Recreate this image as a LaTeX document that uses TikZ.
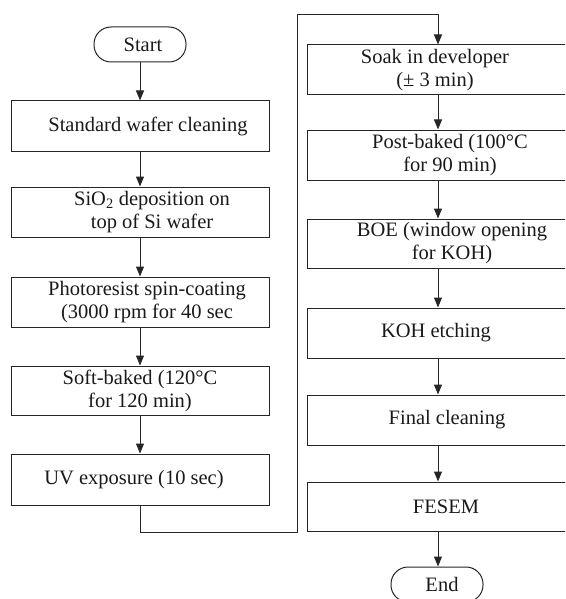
\documentclass[tikz,border=0pt]{standalone}
\usepackage{fontspec}
\setmainfont{Liberation Serif}
\usetikzlibrary{arrows.meta}
\begin{document}
\begin{tikzpicture}[x=1pt,y=-1pt,
  box/.style={draw=black!85, line width=1pt, minimum width=258pt, minimum height=50pt, inner sep=0pt},
  rbox/.style={box, minimum width=262pt},
  term/.style={draw=black!85, line width=1pt, rounded corners=17pt, minimum width=92pt, minimum height=35pt, inner sep=0pt},
  txt/.style={font=\fontsize{20.5}{23}\selectfont, align=center, inner sep=0pt, text=black!90},
  arr/.style={line width=1pt, draw=black!85, -{Triangle[width=8pt,length=10pt]}},
  ln/.style={line width=1pt, draw=black!85}]
\useasboundingbox (0,0) rectangle (565,599);
\clip (0,0) rectangle (565,599);
% left column
\node[term] (start) at (140,44.5) {};
\node[txt] (tstart) at (143,44.5) {Start};
\node[box] (b1) at (140,126) {};
\node[txt] (t1) at (148,126) {Standard wafer cleaning};
\node[box] (b2) at (140,212) {};
\node[txt] (t2) at (152,212) {SiO\textsubscript{2} deposition on\\top of Si wafer};
\node[box] (b3) at (140,302) {};
\node[txt] (t3) at (147,302) {Photoresist spin-coating\\(3000 rpm for 40 sec};
\node[box, minimum height=49pt] (b4) at (140,390.5) {};
\node[txt] (t4) at (140,390.5) {Soft-baked (120°C\\for 120 min)};
\node[box, minimum height=51pt] (b5) at (140,479.5) {};
\node[txt] (t5) at (134,479.5) {UV exposure (10 sec)};
% right column
\node[rbox] (r1) at (438,70) {};
\node[txt] (tr1) at (435,70) {Soak in developer\\(± 3 min)};
\node[rbox] (r2) at (438,155) {};
\node[txt] (tr2) at (450,155) {Post-baked (100°C\\for 90 min)};
\node[rbox, minimum height=49pt] (r3) at (438,243.5) {};
\node[txt] (tr3) at (452,243.5) {BOE (window opening\\for KOH)};
\node[rbox] (r4) at (438,333) {};
\node[txt] (tr4) at (436,333) {KOH etching};
\node[rbox] (r5) at (438,420) {};
\node[txt] (tr5) at (447,420) {Final cleaning};
\node[rbox, minimum height=49pt] (r6) at (438,506.5) {};
\node[txt] (tr6) at (446,506.5) {FESEM};
\node[term] (end) at (437,584.5) {};
\node[txt] (tend) at (442,584.5) {End};
% connectors
\draw[arr] (start) -- (b1);
\draw[arr] (b1) -- (b2);
\draw[arr] (b2) -- (b3);
\draw[arr] (b3) -- (b4);
\draw[arr] (b4) -- (b5);
\coordinate (c1) at (140,532);
\coordinate (c2) at (297,532);
\coordinate (c3) at (297,15);
\coordinate (c4) at (438,15);
\draw[arr] (b5.south) -- (c1) -- (c2) -- (c3) -- (c4) -- (r1.north);
\draw[arr] (r1) -- (r2);
\draw[arr] (r2) -- (r3);
\draw[arr] (r3) -- (r4);
\draw[arr] (r4) -- (r5);
\draw[arr] (r5) -- (r6);
\draw[arr] (r6.south) -- (end.north -| r6.south);
\end{tikzpicture}
\end{document}
